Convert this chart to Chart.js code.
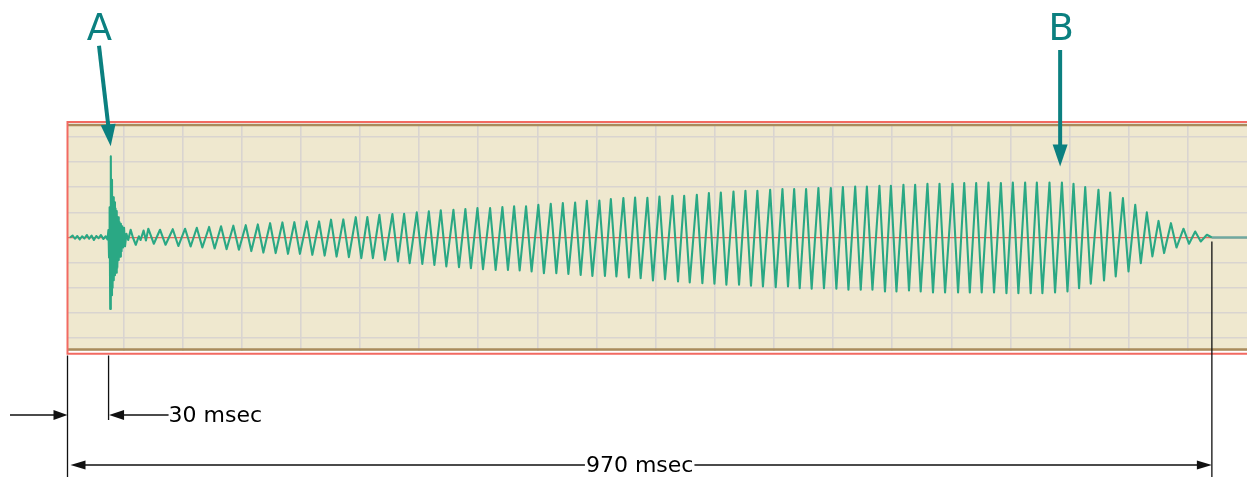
<!DOCTYPE html>
<html>
<head>
<meta charset="utf-8">
<script src="https://cdn.jsdelivr.net/npm/chart.js@4/dist/chart.umd.min.js"></script>
<style>
  html,body{margin:0;padding:0;background:#fff;overflow:hidden}
  #wrap{position:relative;width:1247px;height:477px}
</style>
</head>
<body>
<div id="wrap"><canvas id="wave"></canvas></div>
<script>
// 横軸 msec、縦軸は目盛1つ=1単位の振幅

// 立ち上がり部（A の前の細かい揺れ〜A のバースト〜規則振動までのつなぎ）
const onsetTimes = [4.8, 7, 9, 11, 13, 15, 17, 19, 21, 23, 25, 27, 29, 31, 33, 35, 36.5,
  37.3, 37.8, 38.3, 38.8, 39.3, 39.8, 40.3, 40.8, 41.3, 41.8, 42.3, 42.8, 43.3, 43.8, 44.3, 44.8,
  45.4, 46.0, 46.6, 47.2, 47.8, 48.4, 49.0, 49.7, 50.5, 51.3,
  52.5, 54.0, 56.1, 58.0, 60.4, 63.0, 64.5, 67.0, 69.0];
const onsetValues = [0, 0.08, -0.05, 0.06, -0.08, 0.05, -0.04, 0.1, -0.05, 0.08, -0.1, 0.06, -0.03, 0.1, -0.06, 0.05, -0.08,
  0.3, -0.8, 1.2, -2.85, 3.23, -2.3, 2.3, -2.0, 1.6, -1.7, 1.4, -1.5, 1.15, -1.4, 1.05, -1.2,
  0.8, -0.9, 0.62, -0.76, 0.55, -0.55, 0.45, -0.4, 0.39, -0.35,
  0.15, -0.1, 0.31, 0.0, -0.29, 0.05, -0.1, 0.28, -0.12];

// 規則振動の山（時刻と値）
const peakTimes = [71.0, 80.9, 91.7, 102.1, 112.0, 122.4, 132.5, 142.9, 153.4, 163.6,
  174.0, 184.4, 194.5, 205.0, 215.4, 225.5, 235.9, 246.4, 256.2, 266.4,
  277.4, 287.3, 298.0, 308.2, 318.3, 329.0, 339.1, 349.3, 360.0, 370.4,
  380.3, 390.4, 400.8, 411.3, 421.5, 431.9, 441.8, 452.4, 462.1, 472.7,
  482.6, 493.0, 503.2, 514.2, 524.1, 534.8, 545.0, 555.1, 565.8, 575.9,
  586.0, 596.8, 607.2, 617.1, 627.2, 637.6, 648.1, 658.3, 668.7, 678.6,
  689.2, 698.9, 709.5, 719.4, 729.8, 740.0, 751.0, 760.9, 771.0, 781.4,
  791.9, 802.0, 812.4, 822.3, 833.0, 843.5, 853.3, 863.2, 874.4, 884.3,
  895.1, 905.5, 915.3, 925.2, 935.7, 946.3, 956.2, 966.1];
const peakValues = [0.35, 0.31, 0.33, 0.35, 0.39, 0.42, 0.45, 0.47, 0.49, 0.52,
  0.57, 0.60, 0.61, 0.64, 0.64, 0.71, 0.72, 0.81, 0.81, 0.90,
  0.93, 0.94, 1.00, 1.04, 1.08, 1.10, 1.13, 1.17, 1.17, 1.21,
  1.24, 1.24, 1.30, 1.34, 1.37, 1.39, 1.46, 1.47, 1.53, 1.57,
  1.59, 1.58, 1.63, 1.66, 1.66, 1.70, 1.77, 1.79, 1.83, 1.86,
  1.86, 1.90, 1.93, 1.93, 1.93, 1.97, 1.97, 2.01, 2.03, 2.03,
  2.06, 2.06, 2.10, 2.10, 2.14, 2.14, 2.14, 2.17, 2.17, 2.19,
  2.17, 2.19, 2.19, 2.19, 2.19, 2.19, 2.14, 2.01, 1.90, 1.79,
  1.57, 1.30, 1.00, 0.66, 0.57, 0.35, 0.24, 0.11];

// 谷（各山の直後）
const troughTimes = [75.7, 85.6, 96.4, 106.8, 116.7, 127.1, 137.2, 147.6, 158.1, 168.3,
  178.7, 189.1, 199.2, 209.7, 220.1, 230.2, 240.6, 251.1, 260.9, 271.1,
  282.1, 292.0, 302.7, 312.9, 323.0, 333.7, 343.8, 354.0, 364.7, 375.1,
  385.0, 395.1, 405.5, 416.0, 426.2, 436.6, 446.5, 457.1, 466.8, 477.4,
  487.3, 497.7, 507.9, 518.9, 528.8, 539.5, 549.7, 559.8, 570.5, 580.6,
  590.7, 601.5, 611.9, 621.8, 631.9, 642.3, 652.8, 663.0, 673.4, 683.3,
  693.9, 703.6, 714.2, 724.1, 734.5, 744.7, 755.7, 765.6, 775.7, 786.1,
  796.6, 806.7, 817.1, 827.0, 837.7, 848.2, 858.0, 867.9, 879.1, 889.0,
  899.8, 910.2, 920.0, 929.9, 940.4, 951.0, 960.9];
const troughValues = [-0.25, -0.29, -0.34, -0.36, -0.40, -0.44, -0.47, -0.49, -0.54, -0.60,
  -0.62, -0.65, -0.65, -0.69, -0.72, -0.76, -0.78, -0.82, -0.82, -0.89,
  -0.95, -1.02, -1.05, -1.09, -1.15, -1.18, -1.22, -1.26, -1.29, -1.29,
  -1.31, -1.35, -1.42, -1.42, -1.45, -1.49, -1.53, -1.53, -1.55, -1.59,
  -1.62, -1.71, -1.66, -1.75, -1.79, -1.82, -1.84, -1.88, -1.88, -1.92,
  -1.95, -1.98, -1.95, -2.02, -2.04, -2.02, -2.04, -2.08, -2.08, -2.08,
  -2.15, -2.15, -2.11, -2.15, -2.19, -2.19, -2.19, -2.19, -2.19, -2.19,
  -2.22, -2.22, -2.22, -2.22, -2.19, -2.15, -2.02, -1.84, -1.71, -1.55,
  -1.35, -1.02, -0.75, -0.62, -0.40, -0.25, -0.16];

const waveEnd = 970.3;     // 波形の終わり
const traceEnd = 1000;     // 表示の右端
const gridTimes = [50, 100, 150, 200, 250, 300, 350, 400, 450, 500, 550, 600, 650, 700, 750, 800, 850, 900, 950];
const gridLevels = [-4, -3, -2, -1, 0, 1, 2, 3, 4];

// 注記
const markA = { label: 'A', t: 39.2, v: 3.63 };
const markB = { label: 'B', t: 842.0, v: 2.83 };
const spikeMark = 37.4;
const dimLabels = ['30 msec', '970 msec'];

const TEAL = '#0b8080';
const FONT = '"DejaVu Sans", Verdana, sans-serif';

// 折れ線の点を組み立て
const points = onsetTimes.map((t, i) => ({ x: t, y: onsetValues[i] }));
peakTimes.forEach((t, i) => {
  points.push({ x: t, y: peakValues[i] });
  if (i < troughTimes.length) points.push({ x: troughTimes[i], y: troughValues[i] });
});
points.push({ x: waveEnd, y: 0 }, { x: traceEnd, y: 0 });

function head(ctx, tx, ty, dx, dy, len, half) {
  ctx.beginPath();
  ctx.moveTo(tx, ty);
  ctx.lineTo(tx - dx * len - dy * half, ty - dy * len + dx * half);
  ctx.lineTo(tx - dx * len + dy * half, ty - dy * len - dx * half);
  ctx.closePath();
  ctx.fill();
}

const framePlugin = {
  id: 'frame',
  beforeDraw(chart) {
    const { ctx, chartArea: a } = chart;
    ctx.save();
    ctx.fillStyle = '#efe8cf';
    ctx.fillRect(a.left, a.top, a.right - a.left, a.bottom - a.top);
    ctx.restore();
  },
  afterDraw(chart) {
    const { ctx, chartArea: a } = chart;
    const xs = chart.scales.x, ys = chart.scales.y;
    ctx.save();
    // 枠（茶色の線と赤い外枠）
    ctx.strokeStyle = '#a98b5c';
    ctx.lineWidth = 2.6;
    ctx.beginPath();
    ctx.moveTo(a.left, a.top + 0.5); ctx.lineTo(a.right, a.top + 0.5);
    ctx.moveTo(a.left, a.bottom - 1); ctx.lineTo(a.right, a.bottom - 1);
    ctx.stroke();
    ctx.strokeStyle = '#f26a62';
    ctx.lineWidth = 2;
    ctx.beginPath();
    ctx.moveTo(a.right, a.top - 2.5);
    ctx.lineTo(a.left - 0.5, a.top - 2.5);
    ctx.lineTo(a.left - 0.5, a.bottom + 3.3);
    ctx.lineTo(a.right, a.bottom + 3.3);
    ctx.stroke();

    // A / B の矢印
    ctx.fillStyle = TEAL;
    ctx.strokeStyle = TEAL;
    ctx.lineWidth = 4;
    ctx.font = '37px ' + FONT;
    ctx.textAlign = 'center';
    ctx.textBaseline = 'alphabetic';

    const ax = xs.getPixelForValue(markA.t), ay = ys.getPixelForValue(markA.v);
    const atx = ax - 11.7, aty = ay - 100.7;
    const alen = Math.hypot(ax - atx, ay - aty);
    const adx = (ax - atx) / alen, ady = (ay - aty) / alen;
    ctx.beginPath();
    ctx.moveTo(atx, aty);
    ctx.lineTo(ax - adx * 18, ay - ady * 18);
    ctx.stroke();
    head(ctx, ax, ay, adx, ady, 22, 7.5);
    ctx.fillText(markA.label, ax - 11.2, 39.5);

    const bx = xs.getPixelForValue(markB.t), by = ys.getPixelForValue(markB.v);
    ctx.beginPath();
    ctx.moveTo(bx, 50);
    ctx.lineTo(bx, by - 18);
    ctx.stroke();
    head(ctx, bx, by, 0, 1, 22, 7.5);
    ctx.fillText(markB.label, bx + 1, 39.5);

    // 寸法線
    const left = a.left - 0.5;
    const sx = xs.getPixelForValue(spikeMark);
    const ex = xs.getPixelForValue(waveEnd);
    const y1 = a.bottom + 64.5, y2 = a.bottom + 114.5;
    ctx.strokeStyle = '#111';
    ctx.fillStyle = '#111';
    ctx.lineWidth = 1.3;
    ctx.beginPath();
    ctx.moveTo(left, a.bottom + 5); ctx.lineTo(left, chart.height);
    ctx.moveTo(sx, a.bottom + 5); ctx.lineTo(sx, y1 + 5);
    ctx.moveTo(ex, ys.getPixelForValue(-0.16)); ctx.lineTo(ex, chart.height);
    ctx.moveTo(10, y1); ctx.lineTo(left - 10, y1);
    ctx.moveTo(sx + 10, y1); ctx.lineTo(sx + 60, y1);
    ctx.moveTo(left + 12, y2); ctx.lineTo(ex - 10, y2);
    ctx.stroke();
    head(ctx, left, y1, 1, 0, 14, 5);
    head(ctx, sx + 0.5, y1, -1, 0, 15, 5);
    head(ctx, left + 3, y2, -1, 0, 15, 4.5);
    head(ctx, ex, y2, 1, 0, 15, 4.5);

    ctx.font = '22px ' + FONT;
    ctx.textAlign = 'left';
    ctx.fillStyle = '#000';
    ctx.fillText(dimLabels[0], sx + 60, y1 + 7);
    const mid = (left + ex) / 2;
    const w = ctx.measureText(dimLabels[1]).width;
    ctx.fillStyle = '#fff';
    ctx.fillRect(mid - w / 2 - 1, y2 - 2, w + 2, 4);
    ctx.fillStyle = '#000';
    ctx.textAlign = 'center';
    ctx.fillText(dimLabels[1], mid, y2 + 7);
    ctx.restore();
  }
};

new Chart(document.getElementById('wave'), {
  type: 'line',
  data: {
    datasets: [{
      data: points,
      borderColor: '#2aa884',
      borderWidth: 2.1,
      borderJoinStyle: 'round',
      pointRadius: 0,
      tension: 0,
      fill: false,
      segment: {
        borderColor: c => c.p0.parsed.x >= waveEnd ? '#6fa9a0' : undefined,
        borderWidth: c => c.p0.parsed.x >= waveEnd ? 2.4 : undefined
      }
    }]
  },
  options: {
    responsive: true,
    maintainAspectRatio: false,
    animation: false,
    events: [],
    layout: { padding: { left: 68, right: 0, top: 124.5, bottom: 126.5 } },
    plugins: { legend: { display: false }, tooltip: { enabled: false } },
    scales: {
      x: {
        type: 'linear',
        min: 3.1,
        max: traceEnd,
        afterBuildTicks: s => { s.ticks = gridTimes.map(v => ({ value: v })); },
        ticks: { display: false },
        border: { display: false },
        grid: { color: '#d9d4d0', lineWidth: 1.6, drawTicks: false }
      },
      y: {
        type: 'linear',
        min: -4.5,
        max: 4.5,
        afterBuildTicks: s => { s.ticks = gridLevels.map(v => ({ value: v })); },
        ticks: { display: false },
        border: { display: false },
        grid: {
          color: c => c.tick && c.tick.value === 0 ? '#e4675c' : '#d9d4d0',
          lineWidth: c => c.tick && c.tick.value === 0 ? 1.2 : 1.6,
          drawTicks: false
        }
      }
    }
  },
  plugins: [framePlugin]
});
</script>
</body>
</html>
